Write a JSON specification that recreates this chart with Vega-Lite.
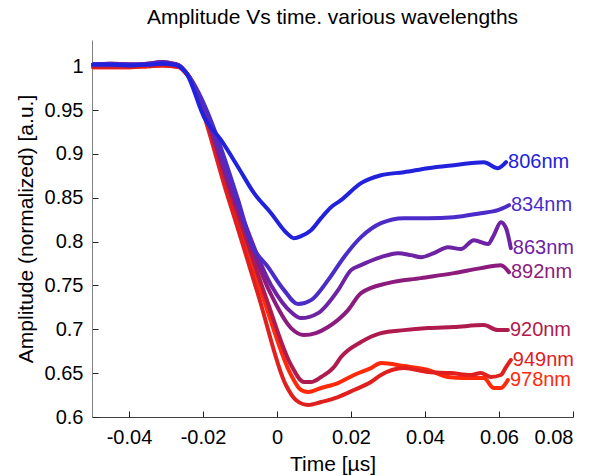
{
  "$schema": "https://vega.github.io/schema/vega-lite/v6.json",
  "width": 481,
  "height": 377,
  "autosize": {"type": "none"},
  "padding": {"left": 92, "top": 40, "right": 35, "bottom": 59},
  "background": "white",
  "config": {"view": {"stroke": null}, "font": "Liberation Sans"},
  "title": {"text": "Amplitude Vs time. various wavelengths", "fontSize": 21, "font": "Liberation Sans", "fontWeight": "normal", "color": "#000000", "anchor": "middle", "frame": "group", "baseline": "alphabetic", "offset": -5},
  "data": {"values": [
    {"w":"978nm","t":-0.0497,"a":0.999},{"w":"978nm","t":-0.045,"a":0.999},{"w":"978nm","t":-0.04,"a":0.999},{"w":"978nm","t":-0.035,"a":1.0},{"w":"978nm","t":-0.031,"a":1.001},{"w":"978nm","t":-0.028,"a":1.0},{"w":"978nm","t":-0.0265,"a":0.999},{"w":"978nm","t":-0.0246,"a":0.992},{"w":"978nm","t":-0.0124,"a":0.8473},{"w":"978nm","t":-0.0038,"a":0.7368},{"w":"978nm","t":0.0038,"a":0.6479},{"w":"978nm","t":0.0065,"a":0.6308},{"w":"978nm","t":0.0084,"a":0.6285},{"w":"978nm","t":0.0119,"a":0.6331},{"w":"978nm","t":0.0165,"a":0.6387},{"w":"978nm","t":0.0208,"a":0.6479},{"w":"978nm","t":0.0254,"a":0.6558},{"w":"978nm","t":0.0281,"a":0.6615},{"w":"978nm","t":0.0343,"a":0.6581},{"w":"978nm","t":0.0408,"a":0.6536},{"w":"978nm","t":0.0462,"a":0.6456},{"w":"978nm","t":0.0505,"a":0.6444},{"w":"978nm","t":0.0559,"a":0.6444},{"w":"978nm","t":0.0586,"a":0.6331},{"w":"978nm","t":0.0605,"a":0.6331},{"w":"978nm","t":0.0624,"a":0.6422},
    {"w":"949nm","t":-0.0497,"a":0.999},{"w":"949nm","t":-0.045,"a":0.999},{"w":"949nm","t":-0.04,"a":0.999},{"w":"949nm","t":-0.035,"a":1.0},{"w":"949nm","t":-0.031,"a":1.001},{"w":"949nm","t":-0.028,"a":1.0},{"w":"949nm","t":-0.0265,"a":0.999},{"w":"949nm","t":-0.0246,"a":0.992},{"w":"949nm","t":-0.013,"a":0.8473},{"w":"949nm","t":-0.0049,"a":0.7368},{"w":"949nm","t":0.0024,"a":0.6365},{"w":"949nm","t":0.0051,"a":0.6194},{"w":"949nm","t":0.0084,"a":0.6137},{"w":"949nm","t":0.0119,"a":0.6171},{"w":"949nm","t":0.0165,"a":0.6228},{"w":"949nm","t":0.0208,"a":0.6308},{"w":"949nm","t":0.0254,"a":0.6399},{"w":"949nm","t":0.0281,"a":0.6479},{"w":"949nm","t":0.0343,"a":0.6558},{"w":"949nm","t":0.0408,"a":0.6513},{"w":"949nm","t":0.047,"a":0.6501},{"w":"949nm","t":0.0524,"a":0.6479},{"w":"949nm","t":0.0551,"a":0.6501},{"w":"949nm","t":0.0578,"a":0.6456},{"w":"949nm","t":0.0605,"a":0.6479},{"w":"949nm","t":0.0619,"a":0.657},{"w":"949nm","t":0.0632,"a":0.665},
    {"w":"920nm","t":-0.0497,"a":1.001},{"w":"920nm","t":-0.045,"a":1.001},{"w":"920nm","t":-0.04,"a":1.001},{"w":"920nm","t":-0.035,"a":1.002},{"w":"920nm","t":-0.031,"a":1.003},{"w":"920nm","t":-0.028,"a":1.002},{"w":"920nm","t":-0.0265,"a":1.0},{"w":"920nm","t":-0.0246,"a":0.993},{"w":"920nm","t":-0.0119,"a":0.8473},{"w":"920nm","t":-0.003,"a":0.7368},{"w":"920nm","t":0.0038,"a":0.6593},{"w":"920nm","t":0.0073,"a":0.6399},{"w":"920nm","t":0.0092,"a":0.6399},{"w":"920nm","t":0.0119,"a":0.6456},{"w":"920nm","t":0.0154,"a":0.657},{"w":"920nm","t":0.0173,"a":0.6684},{"w":"920nm","t":0.0227,"a":0.6855},{"w":"920nm","t":0.0281,"a":0.6957},{"w":"920nm","t":0.0343,"a":0.6991},{"w":"920nm","t":0.0408,"a":0.7014},{"w":"920nm","t":0.0478,"a":0.7026},{"w":"920nm","t":0.0559,"a":0.7048},{"w":"920nm","t":0.0597,"a":0.6991},{"w":"920nm","t":0.0624,"a":0.6991},
    {"w":"892nm","t":-0.0497,"a":1.002},{"w":"892nm","t":-0.045,"a":1.003},{"w":"892nm","t":-0.04,"a":1.002},{"w":"892nm","t":-0.035,"a":1.003},{"w":"892nm","t":-0.031,"a":1.005},{"w":"892nm","t":-0.028,"a":1.003},{"w":"892nm","t":-0.0265,"a":1.001},{"w":"892nm","t":-0.0246,"a":0.993},{"w":"892nm","t":-0.0114,"a":0.8473},{"w":"892nm","t":-0.0022,"a":0.7447},{"w":"892nm","t":0.0038,"a":0.7014},{"w":"892nm","t":0.0073,"a":0.6934},{"w":"892nm","t":0.0105,"a":0.6957},{"w":"892nm","t":0.0138,"a":0.7026},{"w":"892nm","t":0.0192,"a":0.7219},{"w":"892nm","t":0.0227,"a":0.7413},{"w":"892nm","t":0.03,"a":0.7527},{"w":"892nm","t":0.0389,"a":0.7584},{"w":"892nm","t":0.0478,"a":0.7641},{"w":"892nm","t":0.0551,"a":0.7698},{"w":"892nm","t":0.0605,"a":0.7732},{"w":"892nm","t":0.0627,"a":0.7652},
    {"w":"863nm","t":-0.0497,"a":1.002},{"w":"863nm","t":-0.045,"a":1.003},{"w":"863nm","t":-0.04,"a":1.002},{"w":"863nm","t":-0.035,"a":1.003},{"w":"863nm","t":-0.031,"a":1.005},{"w":"863nm","t":-0.028,"a":1.003},{"w":"863nm","t":-0.0265,"a":1.001},{"w":"863nm","t":-0.0246,"a":0.993},{"w":"863nm","t":-0.0111,"a":0.8473},{"w":"863nm","t":-0.0016,"a":0.7504},{"w":"863nm","t":0.0038,"a":0.7197},{"w":"863nm","t":0.0065,"a":0.7128},{"w":"863nm","t":0.0111,"a":0.7185},{"w":"863nm","t":0.0165,"a":0.7447},{"w":"863nm","t":0.02,"a":0.7675},{"w":"863nm","t":0.0227,"a":0.7732},{"w":"863nm","t":0.0281,"a":0.7823},{"w":"863nm","t":0.0327,"a":0.7869},{"w":"863nm","t":0.0362,"a":0.7846},{"w":"863nm","t":0.0389,"a":0.7823},{"w":"863nm","t":0.0424,"a":0.7869},{"w":"863nm","t":0.0462,"a":0.7937},{"w":"863nm","t":0.0497,"a":0.7915},{"w":"863nm","t":0.0532,"a":0.8017},{"w":"863nm","t":0.057,"a":0.7972},{"w":"863nm","t":0.0586,"a":0.8074},{"w":"863nm","t":0.0605,"a":0.8222},{"w":"863nm","t":0.0619,"a":0.8154},{"w":"863nm","t":0.0632,"a":0.7926},
    {"w":"834nm","t":-0.0497,"a":1.002},{"w":"834nm","t":-0.045,"a":1.002},{"w":"834nm","t":-0.04,"a":1.002},{"w":"834nm","t":-0.035,"a":1.002},{"w":"834nm","t":-0.031,"a":1.004},{"w":"834nm","t":-0.028,"a":1.002},{"w":"834nm","t":-0.0265,"a":1.001},{"w":"834nm","t":-0.0246,"a":0.993},{"w":"834nm","t":-0.0105,"a":0.8473},{"w":"834nm","t":-0.007,"a":0.7983},{"w":"834nm","t":-0.0024,"a":0.7709},{"w":"834nm","t":0.0019,"a":0.7447},{"w":"834nm","t":0.0057,"a":0.7288},{"w":"834nm","t":0.0092,"a":0.7333},{"w":"834nm","t":0.0138,"a":0.7561},{"w":"834nm","t":0.0181,"a":0.7823},{"w":"834nm","t":0.0227,"a":0.8051},{"w":"834nm","t":0.0281,"a":0.8211},{"w":"834nm","t":0.0343,"a":0.8268},{"w":"834nm","t":0.0408,"a":0.8268},{"w":"834nm","t":0.0478,"a":0.8279},{"w":"834nm","t":0.0551,"a":0.8325},{"w":"834nm","t":0.0597,"a":0.8359},{"w":"834nm","t":0.0627,"a":0.8416},
    {"w":"806nm","t":-0.0497,"a":1.002},{"w":"806nm","t":-0.045,"a":1.002},{"w":"806nm","t":-0.04,"a":1.001},{"w":"806nm","t":-0.035,"a":1.002},{"w":"806nm","t":-0.031,"a":1.003},{"w":"806nm","t":-0.028,"a":1.002},{"w":"806nm","t":-0.0265,"a":1.0},{"w":"806nm","t":-0.0246,"a":0.993},{"w":"806nm","t":-0.0197,"a":0.9419},{"w":"806nm","t":-0.0151,"a":0.9157},{"w":"806nm","t":-0.0105,"a":0.8849},{"w":"806nm","t":-0.0062,"a":0.8553},{"w":"806nm","t":-0.0016,"a":0.8325},{"w":"806nm","t":0.0024,"a":0.8108},{"w":"806nm","t":0.0046,"a":0.804},{"w":"806nm","t":0.0065,"a":0.8063},{"w":"806nm","t":0.0092,"a":0.8131},{"w":"806nm","t":0.0119,"a":0.8268},{"w":"806nm","t":0.0146,"a":0.8393},{"w":"806nm","t":0.0173,"a":0.8473},{"w":"806nm","t":0.0227,"a":0.8667},{"w":"806nm","t":0.0281,"a":0.8758},{"w":"806nm","t":0.0343,"a":0.8792},{"w":"806nm","t":0.0408,"a":0.8838},{"w":"806nm","t":0.0478,"a":0.8872},{"w":"806nm","t":0.0559,"a":0.8906},{"w":"806nm","t":0.0597,"a":0.8838},{"w":"806nm","t":0.0619,"a":0.8906}
  ]},
  "encoding": {
    "x": {"field": "t", "type": "quantitative", "scale": {"domain": [-0.05, 0.08], "nice": false, "zero": false},
      "axis": {"title": "Time [µs]", "values": [-0.04, -0.02, 0, 0.02, 0.04, 0.06, 0.08], "labelExpr": "'' + (round(datum.value * 100) / 100)", "grid": false, "domainColor": "#404040", "tickColor": "#202020", "tickSize": -6, "labelPadding": 16, "labelFontSize": 20, "labelFont": "Liberation Sans", "labelColor": "#000000", "titleFontSize": 21, "titleFont": "Liberation Sans", "titleFontWeight": "normal", "titleColor": "#000000", "titlePadding": 6}},
    "y": {"field": "a", "type": "quantitative", "scale": {"domain": [0.6, 1.03], "nice": false, "zero": false},
      "axis": {"title": "Amplitude (normalized) [a.u.]", "values": [0.6, 0.65, 0.7, 0.75, 0.8, 0.85, 0.9, 0.95, 1], "format": "~g", "grid": false, "domainColor": "#808080", "tickColor": "#202020", "tickSize": -6, "labelPadding": 15, "labelFontSize": 20, "labelFont": "Liberation Sans", "labelColor": "#000000", "titleFontSize": 21, "titleFont": "Liberation Sans", "titleFontWeight": "normal", "titleColor": "#000000", "titlePadding": 8}},
    "color": {"field": "w", "type": "nominal", "legend": null,
      "scale": {"domain": ["806nm", "834nm", "863nm", "892nm", "920nm", "949nm", "978nm"], "range": ["#2222dd", "#4b2cc8", "#6e22a4", "#8b1c7e", "#b01b4e", "#e0201f", "#ff2a0a"]}}
  },
  "layer": [
    {"mark": {"type": "line", "strokeWidth": 4, "strokeJoin": "round", "strokeCap": "round", "interpolate": "monotone"}},
    {"transform": [
        {"joinaggregate": [{"op": "max", "field": "t", "as": "tmax"}], "groupby": ["w"]},
        {"filter": "datum.t == datum.tmax"}
      ],
      "mark": {"type": "text", "align": "left", "baseline": "middle", "dx": 2, "fontSize": 20, "font": "Liberation Sans"},
      "encoding": {"text": {"field": "w"}}}
  ]
}
